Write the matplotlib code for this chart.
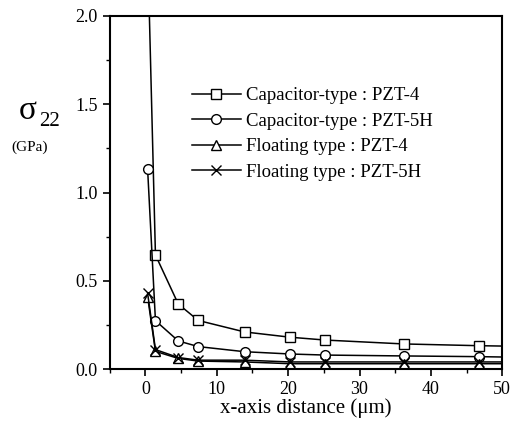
import numpy as np
import matplotlib
matplotlib.use("Agg")
import matplotlib.pyplot as plt
from matplotlib.ticker import MultipleLocator

plt.rcParams['font.family'] = ['Liberation Serif', 'DejaVu Serif']
plt.rcParams['mathtext.fontset'] = 'stix'

# data
x_cap4 = [0.3, 1.4, 4.6, 7.4, 13.9, 20.3, 25.2, 36.2, 46.8, 50]
y_cap4 = [2.4, 0.646, 0.368, 0.275, 0.21, 0.18, 0.164, 0.142, 0.132, 0.13]

x_cap5 = [0.3, 1.4, 4.6, 7.4, 13.9, 20.3, 25.2, 36.2, 46.8, 50]
y_cap5 = [1.133, 0.274, 0.159, 0.127, 0.098, 0.085, 0.079, 0.074, 0.07, 0.068]

x_flo4 = [0.3, 1.4, 4.6, 7.4, 13.9, 20.3, 25.2, 36.2, 46.8, 50]
y_flo4 = [0.41, 0.10, 0.06, 0.045, 0.04, 0.03, 0.03, 0.03, 0.03, 0.03]

x_flo5 = [0.3, 1.4, 4.6, 7.4, 13.9, 20.3, 25.2, 36.2, 46.8, 50]
y_flo5 = [0.43, 0.11, 0.065, 0.05, 0.05, 0.04, 0.04, 0.04, 0.04, 0.04]

labels = ["Capacitor-type : PZT-4", "Capacitor-type : PZT-5H",
          "Floating type : PZT-4", "Floating type : PZT-5H"]

fig = plt.figure(figsize=(5.13, 4.21), dpi=100)
ax = fig.add_axes([0.214, 0.1235, 0.765, 0.8385])

ms = 7
ax.plot(x_cap4, y_cap4, '-', color='black', lw=1.1, marker='s', ms=ms, mfc='white', mec='black', markevery=list(range(9)), label=labels[0])
ax.plot(x_cap5, y_cap5, '-', color='black', lw=1.1, marker='o', ms=ms, mfc='white', mec='black', markevery=list(range(9)), label=labels[1])
ax.plot(x_flo4, y_flo4, '-', color='black', lw=1.1, marker='^', ms=ms, mfc='white', mec='black', markevery=list(range(9)), label=labels[2])
ax.plot(x_flo5, y_flo5, '-', color='black', lw=1.1, marker='x', ms=ms, mec='black', markevery=list(range(9)), label=labels[3])

ax.set_xlim(-5, 50)
ax.set_ylim(0, 2.0)
ax.xaxis.set_major_locator(MultipleLocator(10))
ax.xaxis.set_minor_locator(MultipleLocator(5))
ax.yaxis.set_major_locator(MultipleLocator(0.5))
ax.yaxis.set_minor_locator(MultipleLocator(0.25))
ax.yaxis.set_major_formatter(plt.FormatStrFormatter('%.1f'))
ax.tick_params(which='major', direction='out', length=5, width=1.2, labelsize=13)
ax.tick_params(which='minor', direction='out', length=3, width=1)
for s in ax.spines.values():
    s.set_linewidth(1.5)

ax.set_xlabel("x-axis distance (μm)", fontsize=15, labelpad=0)

fig.text(0.036, 0.738, "σ", fontsize=24, ha='left', va='center')
fig.text(0.077, 0.712, "22", fontsize=15, ha='left', va='center')
fig.text(0.058, 0.65, "(GPa)", fontsize=11, ha='center', va='center')

ax.legend(loc='upper left', bbox_to_anchor=(0.19, 0.82), frameon=False, fontsize=13.5,
          handlelength=2.6, handletextpad=0.3, labelspacing=0.45, borderaxespad=0)

fig.savefig("out.png", dpi=100)
